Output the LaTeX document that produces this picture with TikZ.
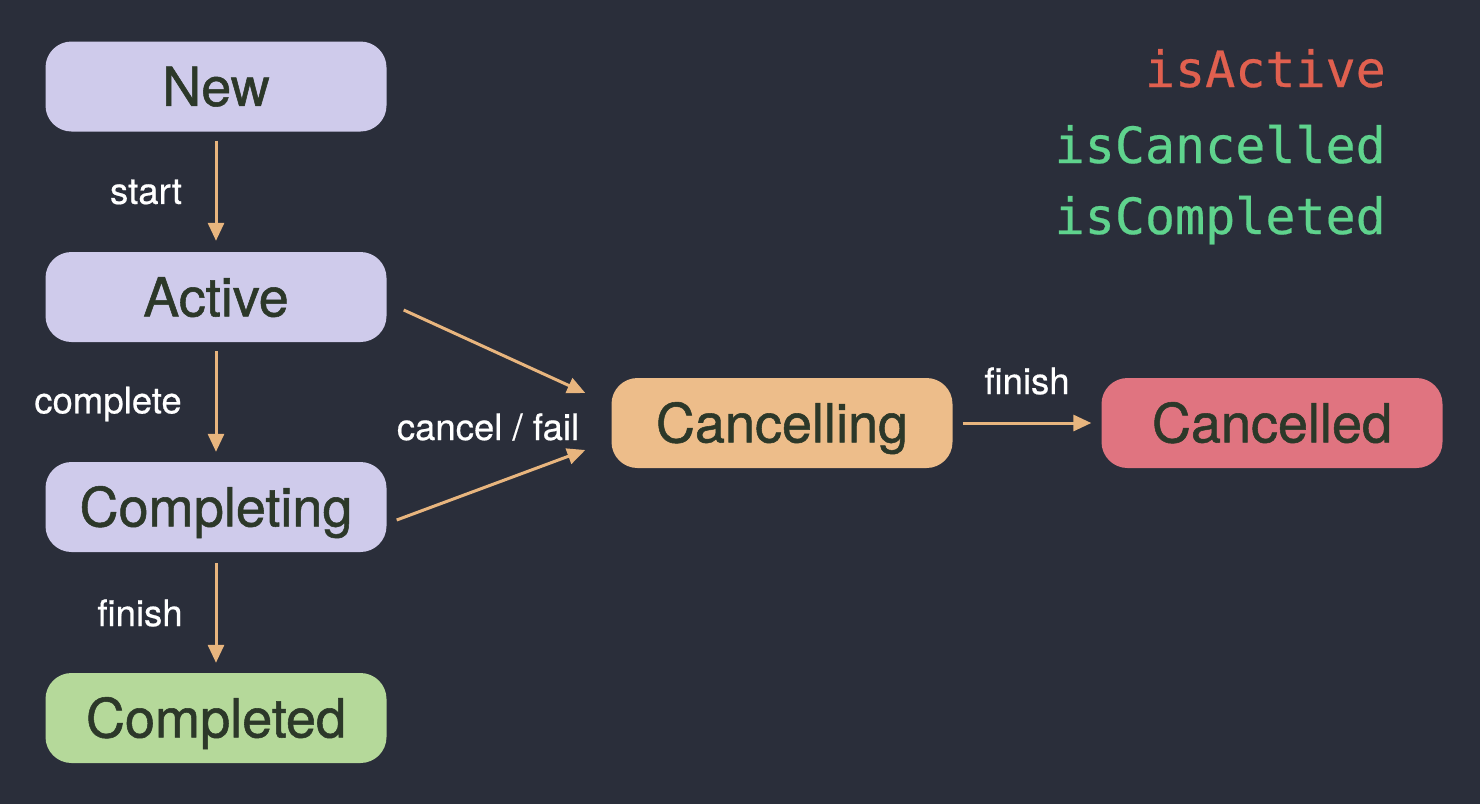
\documentclass[tikz,border=0pt]{standalone}
\usepackage{fontspec}
\setmainfont{TeX Gyre Heros}
\newfontfamily\boxfnt[FakeBold=1.0]{TeX Gyre Heros}
\newfontfamily\lblfnt[FakeBold=0.5]{TeX Gyre Heros}
\newfontfamily\monofnt[FakeBold=0.4]{DejaVu Sans Mono}
\usetikzlibrary{arrows.meta}
\definecolor{bgc}{HTML}{2A2E3A}
\definecolor{purp}{HTML}{CFCBEB}
\definecolor{orng}{HTML}{EDBD8A}
\definecolor{redbox}{HTML}{E07480}
\definecolor{grnbox}{HTML}{B5D99A}
\definecolor{txtdark}{HTML}{2C3829}
\definecolor{arrc}{HTML}{E8B57E}
\definecolor{flagred}{HTML}{E0604F}
\definecolor{flaggrn}{HTML}{5FD38D}
\tikzset{
  state/.style={rounded corners=26pt, minimum width=341pt, minimum height=90pt, inner sep=0pt,
    text=txtdark, font=\boxfnt\fontsize{54}{60}\selectfont, text height=38.8pt, text depth=0pt},
  trans/.style={draw=arrc, line width=3pt, -{Triangle[length=18pt,width=16pt]}},
  lbl/.style={text=white, font=\lblfnt\fontsize{36.5}{42}\selectfont, inner sep=0pt},
  flag/.style={font=\monofnt\fontsize{50}{60}\selectfont, anchor=base east, inner sep=0pt}
}
\begin{document}
\begin{tikzpicture}[x=1pt,y=-1pt]
\fill[bgc] (0,0) rectangle (1480,804);
\useasboundingbox (0,0) rectangle (1480,804);

\node[state, fill=purp] (new) at (216,86.5) {New};
\node[state, fill=purp] (active) at (216,297) {Active};
\node[state, fill=purp] (completing) at (216,507) {Completing};
\node[state, fill=grnbox] (completed) at (216,718) {Completed};
\node[state, fill=orng] (cancelling) at (782,423) {Cancelling};
\node[state, fill=redbox] (cancelled) at (1272,423) {Cancelled};

\draw[trans, shorten <=9pt, shorten >=11pt] (new) -- (active);
\draw[trans, shorten <=9pt, shorten >=10pt] (active) -- (completing);
\draw[trans, shorten <=11pt, shorten >=10pt] (completing) -- (completed);
\draw[trans] ([xshift=17pt,yshift=-13pt]active.east) -- ([xshift=-26pt,yshift=30pt]cancelling.west);
\draw[trans] ([xshift=10pt,yshift=-13pt]completing.east) -- ([xshift=-26pt,yshift=-27pt]cancelling.west);
\draw[trans, shorten <=10pt, shorten >=10pt] (cancelling) -- (cancelled);

\node[lbl] (lstart) at (146,192) {start};
\node[lbl] (lcomplete) at (108,404) {complete};
\node[lbl] (lfinish) at (140,613) {finish};
\node[lbl] (lcancel) at (488,427) {cancel / fail};
\node[lbl] (lfinish2) at (1027,381) {finish};

\node[flag, text=flagred] (fa) at (1386,87) {isActive};
\node[flag, text=flaggrn] (fc) at (1386,163) {isCancelled};
\node[flag, text=flaggrn] (fd) at (1386,234) {isCompleted};
\end{tikzpicture}
\end{document}
